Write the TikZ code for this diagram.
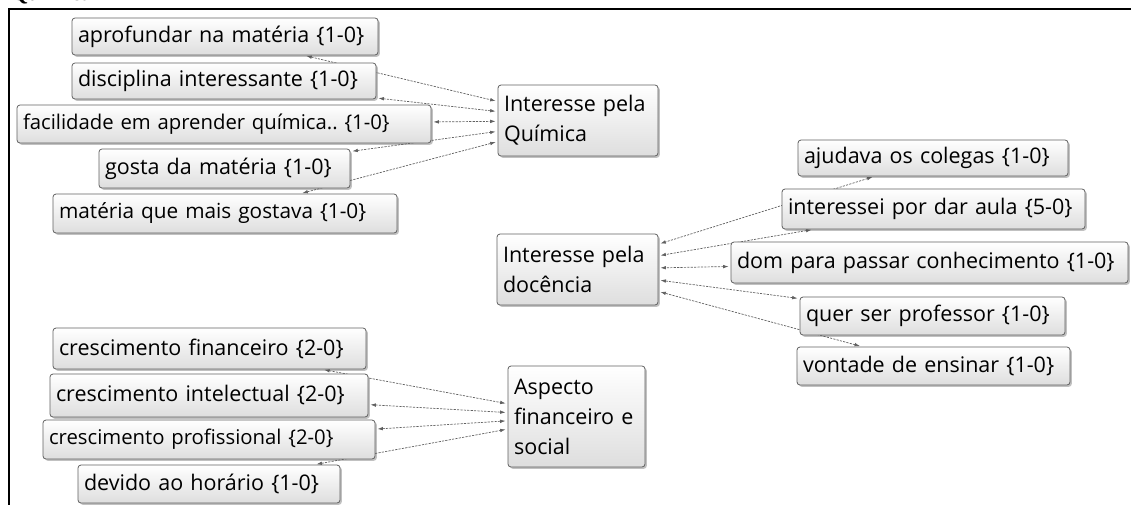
\documentclass[tikz,border=0pt]{standalone}
\usepackage{fontspec}
\setmainfont{Open Sans}
\newfontfamily\titlefont{Liberation Serif}
\usetikzlibrary{arrows.meta,shadows,backgrounds}
\frenchspacing

\tikzset{
  code/.style={
    draw=black!62, line width=0.8pt, rounded corners=3pt,
    top color=white, bottom color=black!13,
    drop shadow={shadow xshift=1.8pt, shadow yshift=-1.8pt, opacity=0.35, fill=black!70},
    inner xsep=6pt, inner ysep=0pt, align=left,
    font=\fontsize{21.5}{30}\selectfont
  },
  snug/.style={font=\fontsize{#1}{30}\selectfont},
  link/.style={
    draw=black!62, line width=0.7pt, dash pattern=on 2.2pt off 1.2pt,
    >={Latex[length=5.5pt,width=3.6pt]}, <->,
    shorten <=2pt, shorten >=2pt
  },
  frame/.style={draw=black, line width=2.6pt}
}

\begin{document}
\begin{tikzpicture}[x=1pt,y=-1pt]
\useasboundingbox (0,0) rectangle (1131,504);

% heading (cut by the page edge) and frame
\node[font=\titlefont\bfseries\fontsize{22}{26}\selectfont, anchor=base west, inner sep=0pt]
  (title) at (11,0.5) {Química};
\draw[frame] (9,540) -- (9,9) -- (1160,9);

% --- Interesse pela Química ---
\node[code, text width=148pt, minimum height=71pt] (intQ) at (578,120.5) {Interesse pela\\Química};
\node[code, text width=294pt, minimum height=37pt] (apr) at (225,36.5) {aprofundar na matéria \{1-0\}};
\node[code, text width=292pt, minimum height=36pt] (dis) at (224,81) {disciplina interessante \{1-0\}};
\node[code, snug=20.3, text width=402pt, minimum height=38pt] (fac) at (224,124) {facilidade em aprender química.. \{1-0\}};
\node[code, text width=239pt, minimum height=39pt] (gos) at (224.5,168.5) {gosta da matéria \{1-0\}};
\node[code, snug=20.8, text width=332pt, minimum height=39pt] (mat) at (225,213.5) {matéria que mais gostava \{1-0\}};

% --- Interesse pela docência ---
\node[code, text width=149pt, minimum height=71pt] (intD) at (577.5,269.5) {Interesse pela\\docência};
\node[code, text width=258pt, minimum height=36pt] (aju) at (933,158) {ajudava os colegas \{1-0\}};
\node[code, text width=291pt, minimum height=40pt] (ints) at (933.5,209) {interessei por dar aula \{5-0\}};
\node[code, text width=385pt, minimum height=41pt] (dom) at (929.5,262.5) {dom para passar conhecimento \{1-0\}};
\node[code, text width=253pt, minimum height=38pt] (que) at (932.5,316) {quer ser professor \{1-0\}};
\node[code, text width=261pt, minimum height=38pt] (von) at (933.5,366) {vontade de ensinar \{1-0\}};

% --- Aspecto financeiro e social ---
\node[code, text width=125pt, minimum height=101pt] (asp) at (576.5,416.5) {Aspecto\\financeiro e\\social};
\node[code, text width=301pt, minimum height=41pt] (fin) at (209.5,348.5) {crescimento financeiro \{2-0\}};
\node[code, text width=306pt, minimum height=43pt] (itl) at (209,395.5) {crescimento intelectual \{2-0\}};
\node[code, snug=20.3, text width=320pt, minimum height=39pt] (pro) at (209,439.5) {crescimento profissional \{2-0\}};
\node[code, text width=250pt, minimum height=38pt] (dev) at (209,484) {devido ao horário \{1-0\}};

% links run behind the boxes
\begin{scope}[on background layer]
  \foreach \c in {apr,dis,fac,gos,mat} \draw[link] (\c) -- (intQ);
  \foreach \c in {aju,ints,dom,que,von} \draw[link] (\c) -- (intD);
  \foreach \c in {fin,itl,pro,dev} \draw[link] (\c) -- (asp);
\end{scope}
\end{tikzpicture}
\end{document}
